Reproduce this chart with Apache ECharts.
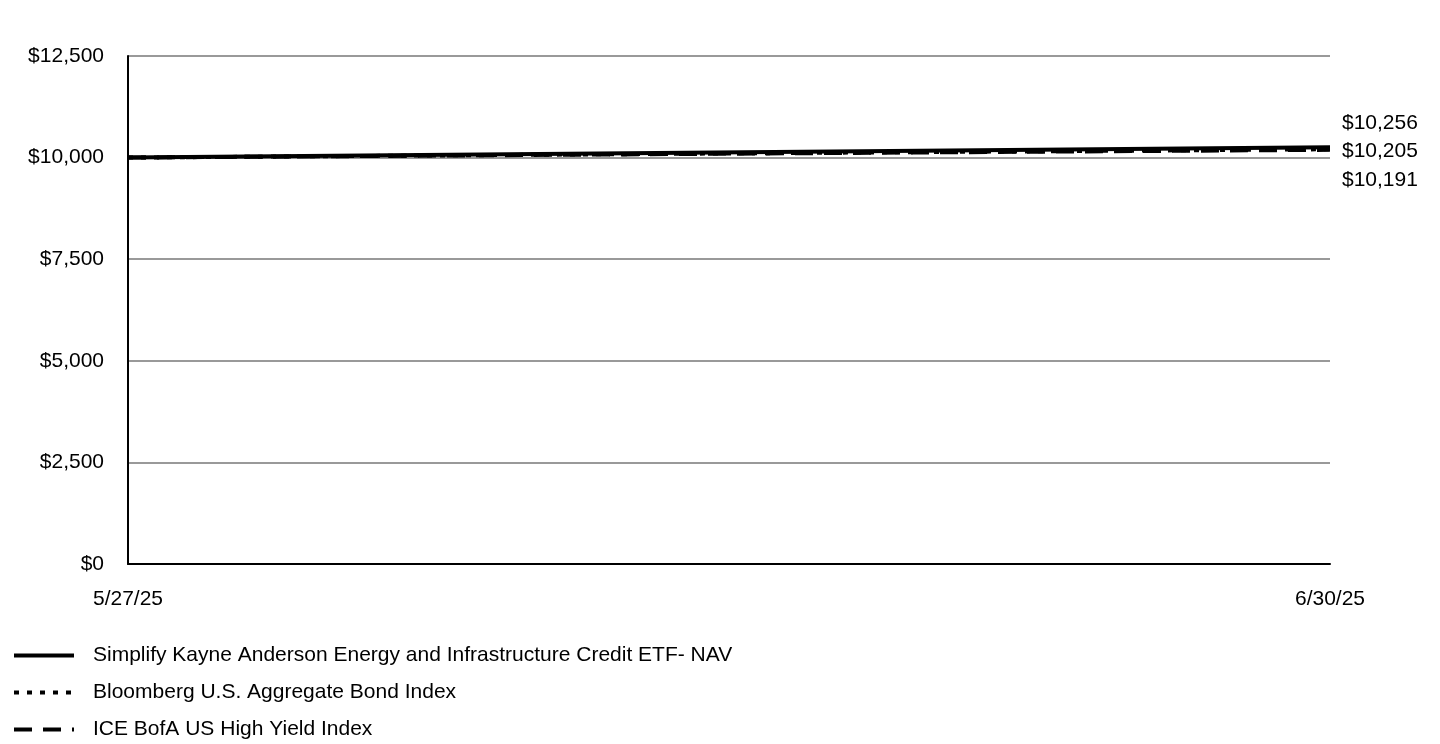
<!DOCTYPE html>
<html><head><meta charset="utf-8">
<script src="https://cdn.jsdelivr.net/npm/echarts@6/dist/echarts.min.js"></script>
<style>html,body{margin:0;padding:0;background:#fff}#c{width:1440px;height:744px}</style>
</head><body><div id="c"></div>
<script>
const dates = ['5/27/25', '6/30/25'];
const navValues = [10000, 10256];
const aggValues = [10000, 10205];
const hyValues = [10000, 10191];
const yTicks = [0, 2500, 5000, 7500, 10000, 12500];
const seriesNames = ['Simplify Kayne Anderson Energy and Infrastructure Credit ETF- NAV', 'Bloomberg U.S. Aggregate Bond Index', 'ICE BofA US High Yield Index'];

const fmt = v => '$' + v.toLocaleString('en-US');
const font = 'Liberation Sans, Arial, sans-serif';
const dashes = { solid: 'solid', dotted: [5, 8], dashed: [18, 11] };
const chart = echarts.init(document.getElementById('c'));
function mk(name, data, type, labelDy) {
  return {
    name, type: 'line', data, symbol: 'none', z: type === 'solid' ? 3 : 4,
    itemStyle: { color: '#000' },
    lineStyle: { color: '#000', width: 4, type: dashes[type], cap: 'butt' },
    endLabel: { show: true, formatter: p => fmt(p.value), color: '#000', fontSize: 21, fontFamily: font, distance: 12, offset: [0, labelDy] }
  };
}
function lg(i, type, top) {
  return {
    orient: 'vertical', left: 12, top, padding: 0, itemWidth: 60, itemHeight: 14,
    itemStyle: { opacity: 0 },
    lineStyle: { color: '#000', width: 4, type: dashes[type], cap: 'butt' },
    textStyle: { color: '#000', fontSize: 21, fontFamily: font, padding: [0, 0, 0, 14] },
    data: [seriesNames[i]]
  };
}
chart.setOption({
  animation: false,
  grid: { left: 128, right: 110, top: 56, bottom: 180 },
  xAxis: {
    type: 'category', data: dates, boundaryGap: false,
    axisLine: { lineStyle: { color: '#000', width: 2 } }, axisTick: { show: false },
    axisLabel: { color: '#000', fontSize: 21, fontFamily: font, margin: 25, showMinLabel: true, showMaxLabel: true, interval: 0 },
    splitLine: { show: false }
  },
  yAxis: {
    type: 'value', min: 0, max: 12500, interval: 2500,
    axisLine: { show: true, lineStyle: { color: '#000', width: 2 } }, axisTick: { show: false },
    axisLabel: { color: '#000', fontSize: 21, fontFamily: font, margin: 24, formatter: v => fmt(v) },
    splitLine: { lineStyle: { color: '#999', width: 2 } }
  },
  legend: [lg(0, 'solid', 645), lg(1, 'dotted', 682), lg(2, 'dashed', 719)],
  series: [
    mk(seriesNames[0], navValues, 'solid', -24),
    mk(seriesNames[1], aggValues, 'dotted', 2),
    mk(seriesNames[2], hyValues, 'dashed', 30)
  ]
});
</script></body></html>
